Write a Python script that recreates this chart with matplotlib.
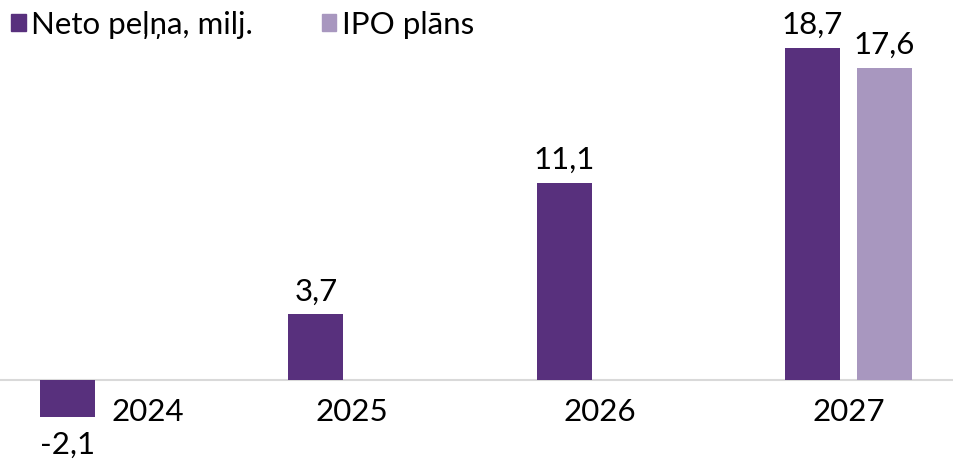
import numpy as np
import matplotlib
matplotlib.use("Agg")
import matplotlib.pyplot as plt
from matplotlib.patches import Patch

plt.rcParams['font.family'] = ['Lato', 'DejaVu Sans']

years = ['2024', '2025', '2026', '2027']
neto = [-2.1, 3.7, 11.1, 18.7]
ipo = [None, None, None, 17.6]

c_neto = '#58307D'
c_ipo = '#A897BF'
fs = 22.5

fig = plt.figure(figsize=(9.54, 4.61), dpi=100)
ax = fig.add_axes([0, 0, 1, 1])

x = np.arange(len(years))
w = 0.222
off = 0.145

def fmt(v):
    return f"{v:.1f}".replace('.', ',')

for i, v in enumerate(neto):
    ax.bar(x[i] - off, v, w, color=c_neto, zorder=2)
    if v >= 0:
        ax.text(x[i] - off, v + 0.5, fmt(v), ha='center', va='bottom', fontsize=fs)
    else:
        ax.text(x[i] - off, v - 0.75, fmt(v), ha='center', va='top', fontsize=fs)

for i, v in enumerate(ipo):
    if v is None:
        continue
    ax.bar(x[i] + off, v, w, color=c_ipo, zorder=2)
    ax.text(x[i] + off, v + 0.5, fmt(v), ha='center', va='bottom', fontsize=fs)

ax.axhline(0, color='#D9D9D9', lw=1.5, zorder=1)

# category labels (2024 is pushed aside by the negative bar)
for i, yr in enumerate(years):
    xo = 0.179 if neto[i] < 0 else 0.0
    ax.text(x[i] + xo, -1.0, yr, ha='center', va='top', fontsize=fs)

ax.set_xlim(-0.417, 3.425)
ax.set_ylim(-4.56, 21.41)
ax.axis('off')

handles = [Patch(color=c_neto), Patch(color=c_ipo)]
ax.legend(handles, ['Neto peļņa, milj.', 'IPO plāns'], loc='upper left',
          bbox_to_anchor=(0.0, 1.0), ncol=2, frameon=False, fontsize=22.5,
          handlelength=0.47, handleheight=0.47, handletextpad=0.17,
          columnspacing=2.2, borderaxespad=0.1, borderpad=0.25)

fig.savefig('out.png', dpi=100)
